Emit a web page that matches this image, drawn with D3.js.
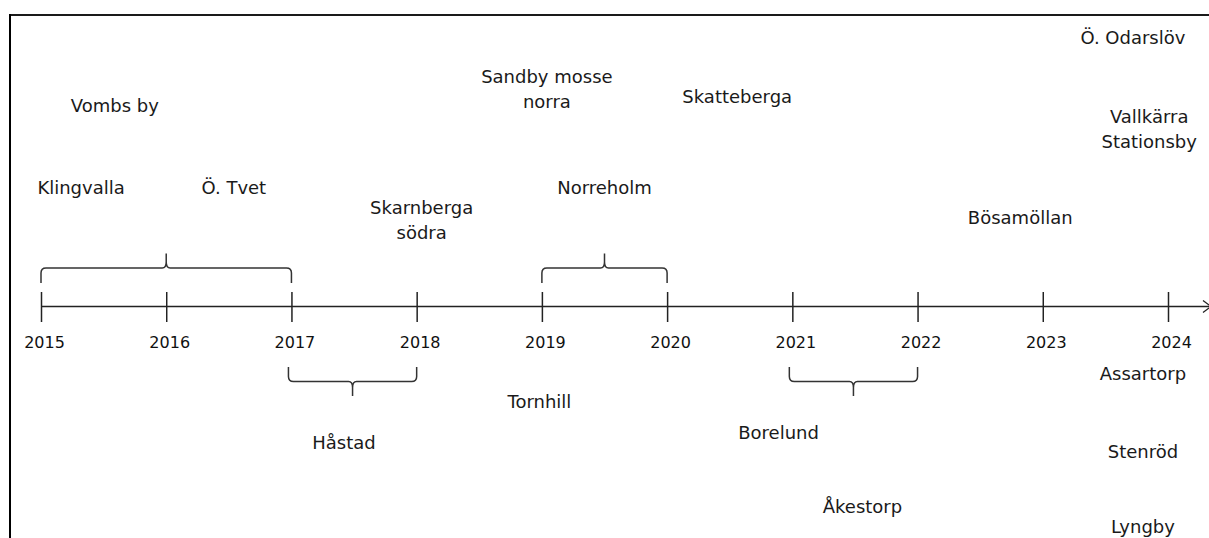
<!DOCTYPE html>
<html>
<head>
<meta charset="utf-8">
<script src="https://cdn.jsdelivr.net/npm/d3@7"></script>
<style>
  html, body { margin: 0; padding: 0; background: #fff; }
  svg { display: block; }
</style>
</head>
<body>
<svg id="chart" width="1209" height="538"></svg>
<script>
// ---- data ----
const years = [2015, 2016, 2017, 2018, 2019, 2020, 2021, 2022, 2023, 2024];
const labelNames = ["Vombs by", "Klingvalla", "Ö. Tvet", "Skarnberga\nsödra", "Sandby mosse\nnorra",
  "Skatteberga", "Norreholm", "Ö. Odarslöv", "Vallkärra\nStationsby", "Bösamöllan",
  "Håstad", "Tornhill", "Borelund", "Åkestorp", "Assartorp", "Stenröd", "Lyngby"];
const labelYears = [2015.59, 2015.32, 2016.54, 2018.04, 2019.04,
  2020.56, 2019.50, 2023.72, 2023.85, 2022.82,
  2017.42, 2018.98, 2020.89, 2021.56, 2023.80, 2023.80, 2023.80];
const labelHeights = [195, 113, 113, 93, 224,
  204, 113, 263, 184, 83,
  -142, -101, -132, -206, -73, -151, -226];
const braceStarts = [2015, 2019, 2017, 2021];
const braceEnds = [2017, 2020, 2018, 2022];
const braceSides = ["above", "above", "below", "below"];

// ---- layout ----
const W = 1209, H = 538;
const axisY = 306.5;
const svg = d3.select("#chart");

const x = d3.scaleLinear().domain([2015, 2024]).range([41, 1168]);
const y = d3.scaleLinear().domain([0, 300]).range([axisY, axisY - 300]);

const ink = "#222";

// frame (top and left edges)
svg.append("line").attr("x1", 9).attr("x2", W + 2).attr("y1", 15).attr("y2", 15)
  .attr("stroke", "#1a1a1a").attr("stroke-width", 2);
svg.append("line").attr("x1", 10).attr("x2", 10).attr("y1", 14).attr("y2", H + 2)
  .attr("stroke", "#000").attr("stroke-width", 2);

// axis line with open arrow head
svg.append("line").attr("x1", x(2015)).attr("x2", W + 2).attr("y1", axisY).attr("y2", axisY)
  .attr("stroke", ink).attr("stroke-width", 1.5);
svg.append("path")
  .attr("d", `M${W - 6},${axisY - 6} L${W + 2},${axisY} L${W - 6},${axisY + 6}`)
  .attr("fill", "none").attr("stroke", ink).attr("stroke-width", 1.3);

// ticks + year labels via d3 axis
const axisG = svg.append("g").attr("transform", `translate(0,${axisY})`)
  .call(d3.axisBottom(x).tickValues(years).tickFormat(d3.format("d")).tickSize(15.5));
axisG.select(".domain").remove();
axisG.selectAll(".tick line").attr("y1", -14.5).attr("stroke", ink).attr("stroke-width", 1.5);
axisG.selectAll(".tick text")
  .attr("y", 41.5).attr("dy", 0).attr("dx", 3)
  .attr("fill", "#111")
  .style("font-family", "'DejaVu Sans', Verdana, sans-serif")
  .style("font-size", "16px");

// braces
function bracePath(x0, x1, side) {
  const s = side === "above" ? -1 : 1;
  const yEnd = axisY + s * (side === "above" ? 23.5 : 60.5);
  const yBar = yEnd + s * (side === "above" ? 15 : 14.5);
  const yTip = yBar + s * 14.5;
  const xm = (x0 + x1) / 2;
  const r = 5;
  return `M${x0},${yEnd} L${x0},${yBar - s * r} Q${x0},${yBar} ${x0 + r},${yBar}` +
    ` L${xm - 4},${yBar} Q${xm},${yBar} ${xm},${yBar + s * 6} L${xm},${yTip}` +
    ` M${xm},${yBar + s * 6} Q${xm},${yBar} ${xm + 4},${yBar}` +
    ` L${x1 - r},${yBar} Q${x1},${yBar} ${x1},${yBar - s * r} L${x1},${yEnd}`;
}
svg.append("g").selectAll("path")
  .data(braceStarts.map((d, i) => ({ s: d, e: braceEnds[i], side: braceSides[i] })))
  .join("path")
  .attr("d", d => bracePath(x(d.s) - (d.side === "below" ? 3 : 0), x(d.e), d.side))
  .attr("fill", "none").attr("stroke", "#333").attr("stroke-width", 1.5);

// labels
const labels = labelNames.map((n, i) => ({ name: n, yr: labelYears[i], h: labelHeights[i] }));
const lg = svg.append("g")
  .style("font-family", "'DejaVu Sans', Verdana, sans-serif")
  .style("font-size", "18px")
  .attr("fill", "#1a1a1a")
  .attr("text-anchor", "middle");
lg.selectAll("text").data(labels).join("text")
  .attr("x", d => x(d.yr))
  .attr("y", d => y(d.h))
  .each(function (d) {
    const t = d3.select(this);
    d.name.split("\n").forEach((line, i) => {
      t.append("tspan").attr("x", x(d.yr)).attr("dy", i === 0 ? 0 : 25.5).text(line);
    });
  });
</script>
</body>
</html>
